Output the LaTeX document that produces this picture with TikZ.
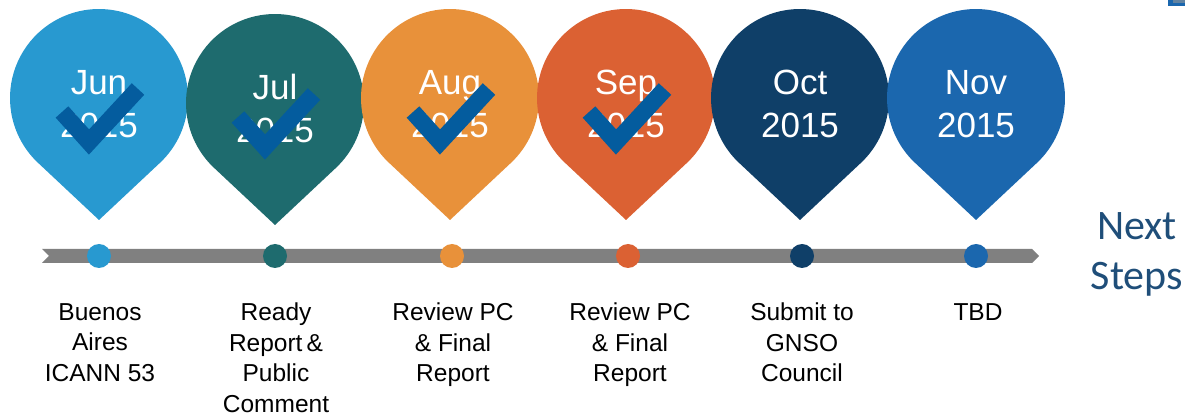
\documentclass[tikz,border=0pt]{standalone}
\usepackage{fontspec}
\setmainfont{Liberation Sans}
\newfontfamily\calibrifont{Carlito}
\definecolor{cJun}{HTML}{2899D0}
\definecolor{cJul}{HTML}{1E6B6E}
\definecolor{cAug}{HTML}{E8913A}
\definecolor{cSep}{HTML}{DB6133}
\definecolor{cOct}{HTML}{0F3F68}
\definecolor{cNov}{HTML}{1B67AE}
\definecolor{cChk}{HTML}{045C9E}
\definecolor{cBar}{HTML}{808080}
\definecolor{cNext}{HTML}{1F4E79}
\newcommand\drawpin[3]{\fill[#3] (#1-60.8,#2-65) -- (#1,#2-122) -- (#1+60.8,#2-65) arc[start angle=-46.9, end angle=226.9, radius=89] -- cycle;}
\newcommand\drawchk[2]{\draw[chkline] (#1-37,#2-14) -- (#1-10,#2-44) -- (#1+39,#2+9);}
\tikzset{
  pintext/.style={text=white, anchor=base, inner sep=0pt, font=\fontsize{35}{40}\selectfont},
  labeltext/.style={text=black, anchor=north, inner sep=0pt, align=center, font=\fontsize{24.5}{30.5}\selectfont},
  chkline/.style={draw=cChk, line width=17pt, line join=miter, line cap=butt},
  dotmark/.style={circle, inner sep=0pt, minimum size=24pt},
  nexttext/.style={text=cNext, anchor=base, inner sep=0pt, font=\calibrifont\fontsize{42}{50}\selectfont}
}
\begin{document}
\begin{tikzpicture}[x=1pt,y=1pt]
\useasboundingbox (0,0) rectangle (1185,412);
% corner fragment
\fill[cNext!70!white] (1173,409) rectangle (1185,412);
\fill[cNov] (1168,406) rectangle (1173,412);
\fill[cNov] (1168,406) rectangle (1185,409);
% pins
\drawpin{99}{314}{cJun}
\drawpin{275}{309}{cJul}
\drawpin{450}{314}{cAug}
\drawpin{626}{314}{cSep}
\drawpin{800}{314}{cOct}
\drawpin{976}{314}{cNov}
% pin texts
\node[pintext] (m1) at (99,317) {Jun};
\node[pintext] (y1) at (99,274) {2015};
\node[pintext] (m2) at (275,312) {Jul};
\node[pintext] (y2) at (275,269) {2015};
\node[pintext] (m3) at (450,317) {Aug};
\node[pintext] (y3) at (450,274) {2015};
\node[pintext] (m4) at (626,317) {Sep};
\node[pintext] (y4) at (626,274) {2015};
\node[pintext] (m5) at (800,317) {Oct};
\node[pintext] (y5) at (800,274) {2015};
\node[pintext] (m6) at (976,317) {Nov};
\node[pintext] (y6) at (976,274) {2015};
% checks
\drawchk{99}{314}
\drawchk{275}{309}
\drawchk{450}{314}
\drawchk{626}{314}
% timeline bar
\fill[cBar] (42,163) -- (1032,163) -- (1039,156) -- (1032,149) -- (42,149) -- (49,156) -- cycle;
% dots
\node[dotmark, fill=cJun] (d1) at (99,156) {};
\node[dotmark, fill=cJul] (d2) at (275,156) {};
\node[dotmark, fill=cAug] (d3) at (452,156) {};
\node[dotmark, fill=cSep] (d4) at (628,156) {};
\node[dotmark, fill=cOct] (d5) at (802,156) {};
\node[dotmark, fill=cNov] (d6) at (976,156) {};
% labels
\node[labeltext] (l1) at (100,109) {Buenos\\Aires\\ICANN 53};
\node[labeltext] (l2) at (276,109) {Ready\\Report\,\&\\Public\\Comment};
\node[labeltext] (l3) at (453,109) {Review PC\\\& Final\\Report};
\node[labeltext] (l4) at (630,109) {Review PC\\\& Final\\Report};
\node[labeltext] (l5) at (802,109) {Submit to\\GNSO\\Council};
\node[labeltext] (l6) at (978,109) {TBD};
% next steps
\node[nexttext] (n1) at (1137,172) {Next};
\node[nexttext] (n2) at (1137,122) {Steps};
\end{tikzpicture}
\end{document}
